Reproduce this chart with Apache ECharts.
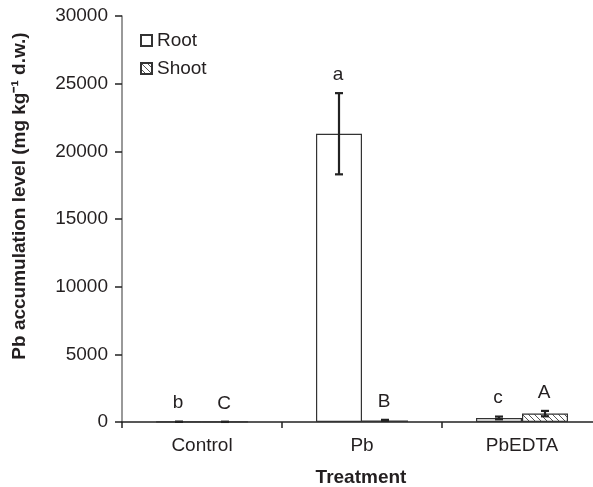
<!DOCTYPE html>
<html>
<head>
<meta charset="utf-8">
<script src="https://cdn.jsdelivr.net/npm/echarts@6/dist/echarts.min.js"></script>
<style>
html,body{margin:0;padding:0;background:#fff;overflow:hidden;}
#chart{width:612px;height:487px;}
</style>
</head>
<body>
<div id="chart"></div>
<script>
var categories = ['Control', 'Pb', 'PbEDTA'];
var rootMean = [15, 21300, 300];
var rootErr = [5, 3000, 100];
var shootMean = [10, 120, 620];
var shootErr = [5, 40, 200];
var rootLetters = ['b', 'a', 'c'];
var shootLetters = ['C', 'B', 'A'];
var yTicks = [0, 5000, 10000, 15000, 20000, 25000, 30000];

var TXT = '#231f20';
var FONT = '"Liberation Sans", Arial, sans-serif';
var FS = 19;
var BAR_W = 46;

// hatch pattern
var pc = document.createElement('canvas');
pc.width = 6; pc.height = 6;
var g = pc.getContext('2d');
g.fillStyle = '#fff'; g.fillRect(0, 0, 6, 6);
g.strokeStyle = '#555'; g.lineWidth = 1;
g.beginPath();
g.moveTo(0, 0); g.lineTo(6, 6);
g.moveTo(-3, 3); g.lineTo(3, 9);
g.moveTo(3, -3); g.lineTo(9, 3);
g.stroke();
var hatch = {image: pc, repeat: 'repeat'};

function errData(means, errs) {
  return means.map(function (m, i) { return [i, m, errs[i]]; });
}

function makeErr(side, letters) {
  return function (params, api) {
    var i = api.value(0), m = api.value(1), e = api.value(2);
    var c = api.coord([i, m]);
    var x = c[0] + side * BAR_W / 2;
    var top = api.coord([i, m + e])[1];
    var bot = api.coord([i, Math.max(0, m - e)])[1];
    var style = {stroke: '#222', lineWidth: 2.2};
    return {
      type: 'group',
      children: [
        {type: 'line', shape: {x1: x, y1: top, x2: x, y2: bot}, style: style},
        {type: 'line', shape: {x1: x - 4, y1: top, x2: x + 4, y2: top}, style: style},
        {type: 'line', shape: {x1: x - 4, y1: bot, x2: x + 4, y2: bot}, style: style},
        {type: 'text', x: x - 1, y: top - 9, style: {text: letters[i], fill: TXT, font: FS + 'px ' + FONT, align: 'center', verticalAlign: 'bottom'}}
      ]
    };
  };
}

var chart = echarts.init(document.getElementById('chart'), null, {renderer: 'canvas'});
chart.setOption({
  animation: false,
  backgroundColor: '#fff',
  grid: {left: 122, top: 16, right: 10, bottom: 65, containLabel: false},
  legend: {
    orient: 'vertical', left: 135, top: 26, itemGap: 9,
    itemWidth: 11, itemHeight: 11, icon: 'rect',
    textStyle: {color: TXT, fontSize: FS, fontFamily: FONT, padding: [0, 0, 0, 0]},
    data: ['Root', 'Shoot']
  },
  xAxis: {
    type: 'category', data: categories,
    axisLine: {lineStyle: {color: '#222', width: 1.5}},
    axisTick: {show: true, length: 6, lineStyle: {color: '#222', width: 1.5}},
    axisLabel: {color: TXT, fontSize: FS, fontFamily: FONT, margin: 14}
  },
  yAxis: {
    type: 'value', min: 0, max: 30000, interval: 5000,
    splitLine: {show: false},
    axisLine: {show: true, lineStyle: {color: '#777', width: 1.5}},
    axisTick: {show: true, length: 7, inside: false, lineStyle: {color: '#222', width: 1.5}},
    axisLabel: {color: TXT, fontSize: FS, fontFamily: FONT, margin: 14,
      formatter: function (v) { return yTicks.indexOf(v) >= 0 ? String(v) : ''; }}
  },
  graphic: [
    {type: 'text', x: 20, y: 196, rotation: Math.PI / 2,
      style: {text: 'Pb accumulation level (mg kg\u207B\u00B9 d.w.)', fill: TXT, font: 'bold ' + FS + 'px ' + FONT, align: 'center', verticalAlign: 'middle'}},
    {type: 'text', x: 361, y: 478,
      style: {text: 'Treatment', fill: TXT, font: 'bold ' + FS + 'px ' + FONT, align: 'center', verticalAlign: 'middle'}}
  ],
  series: [
    {name: 'Root', type: 'bar', data: rootMean, barWidth: BAR_W, barGap: '0%',
      itemStyle: {color: '#fff', borderColor: '#333', borderWidth: 1.2}},
    {name: 'Shoot', type: 'bar', data: shootMean, barWidth: BAR_W, barGap: '0%',
      itemStyle: {color: hatch, borderColor: '#333', borderWidth: 1.2}},
    {name: 'rootErr', type: 'custom', renderItem: makeErr(-1, rootLetters), data: errData(rootMean, rootErr), z: 5},
    {name: 'shootErr', type: 'custom', renderItem: makeErr(1, shootLetters), data: errData(shootMean, shootErr), z: 5}
  ]
});
</script>
</body>
</html>
